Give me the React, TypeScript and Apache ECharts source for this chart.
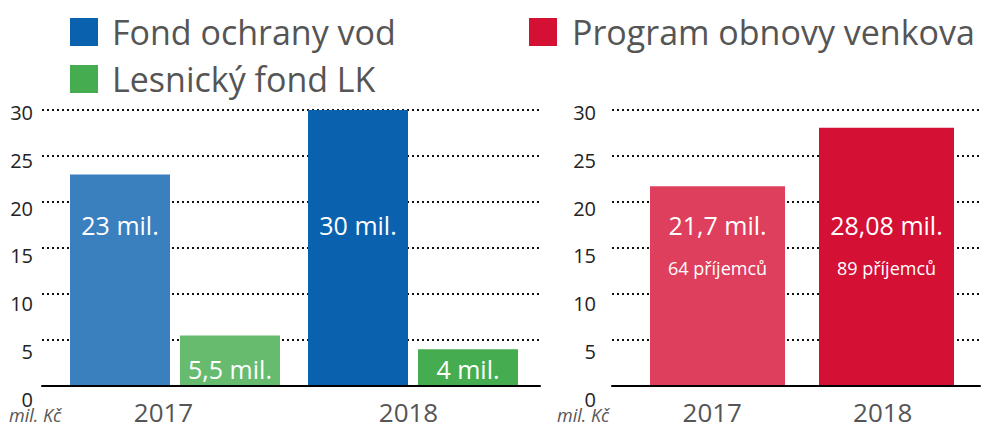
import React, { useEffect, useRef } from "react";
import * as echarts from "echarts";

const years = ["2017", "2018"];
const fondOchranyVod = [23, 30];
const lesnickyFond = [5.5, 4];
const programObnovy = [21.7, 28.08];
const prijemci = [64, 89];
const yTicks = { min: 0, max: 30, interval: 5 };

const seriesNames = ["Fond ochrany vod", "Lesnický fond LK", "Program obnovy venkova"];
const blueColors = ["#3a80bf", "#0a62af"];
const greenColors = ["#67bb6f", "#45ad50"];
const redColors = ["#de3f5c", "#d41034"];

const FONT = "'Open Sans', 'Noto Sans', sans-serif";
const fmt = (v: number) => String(v).replace(".", ",");

export default function App() {
  const ref = useRef<HTMLDivElement>(null);
  useEffect(() => {
    if (!ref.current) return;
    const chart = echarts.init(ref.current, null, { renderer: "svg" });

    const gridLineY = (i: number) => ({
      gridIndex: i,
      type: "value",
      ...yTicks,
      axisLabel: { show: false },
      axisLine: { show: false },
      axisTick: { show: false },
      splitLine: { show: true, lineStyle: { color: "#111", width: 2, type: [2, 3] } },
    });
    const gridLineX = (i: number) => ({
      gridIndex: i,
      type: "category",
      data: years,
      axisLabel: { show: false },
      axisTick: { show: false },
      axisLine: { show: true, lineStyle: { color: "#000", width: 2 } },
      splitLine: { show: false },
      z: 5,
    });
    const hiddenX = (i: number) => ({ gridIndex: i, type: "category", data: years, show: false });
    const hiddenY = (i: number) => ({ gridIndex: i, type: "value", ...yTicks, show: false });
    const labelX = (i: number) => ({
      gridIndex: i,
      type: "category",
      data: years,
      axisLine: { show: false },
      axisTick: { show: false },
      splitLine: { show: false },
      axisLabel: {
        fontSize: 26,
        lineHeight: 24,
        color: "#555",
        fontFamily: FONT,
        margin: 13,
        verticalAlign: "middle",
      },
    });
    const labelY = (i: number, margin: number) => ({
      gridIndex: i,
      type: "value",
      ...yTicks,
      axisLine: { show: false },
      axisTick: { show: false },
      splitLine: { show: false },
      axisLabel: { fontSize: 20, color: "#222", fontFamily: FONT, margin },
    });

    const option: any = {
      animation: false,
      textStyle: { fontFamily: FONT },
      legend: [
        {
          data: [seriesNames[0], seriesNames[1]],
          orient: "vertical",
          left: 70,
          top: 15,
          padding: 0,
          itemWidth: 28,
          itemHeight: 28,
          itemGap: 13,
          icon: "rect",
          selectedMode: false,
          textStyle: { fontSize: 34, color: "#555", lineHeight: 28, padding: [0, 0, 0, 9], fontFamily: FONT },
        },
        {
          data: [seriesNames[2]],
          orient: "vertical",
          left: 529,
          top: 15,
          padding: 0,
          itemWidth: 28,
          itemHeight: 28,
          icon: "rect",
          selectedMode: false,
          textStyle: { fontSize: 34, color: "#555", lineHeight: 28, padding: [0, 0, 0, 10], fontFamily: FONT },
        },
      ],
      grid: [
        { left: 42, width: 498, top: 110, height: 276 },
        { left: 56, width: 476, top: 110, height: 276 },
        { left: 41, width: 490, top: 112.5, height: 286.5 },
        { left: 612, width: 368, top: 110, height: 276 },
        { left: 633, width: 338, top: 110, height: 276 },
        { left: 627, width: 341, top: 112.5, height: 286.5 },
      ],
      xAxis: [gridLineX(0), hiddenX(1), labelX(2), gridLineX(3), hiddenX(4), labelX(5)],
      yAxis: [gridLineY(0), hiddenY(1), labelY(2, 8), gridLineY(3), hiddenY(4), labelY(5, 31)],
      series: [
        {
          name: seriesNames[0],
          type: "bar",
          xAxisIndex: 1,
          yAxisIndex: 1,
          barWidth: 100,
          barGap: "10%",
          itemStyle: { color: blueColors[1] },
          data: fondOchranyVod.map((v, i) => ({ value: v, itemStyle: { color: blueColors[i] } })),
          label: {
            show: true,
            position: "insideBottom",
            distance: 146,
            color: "#fff",
            fontSize: 25,
            lineHeight: 30,
            fontFamily: FONT,
            formatter: (p: any) => `${fmt(p.value)} mil.`,
          },
        },
        {
          name: seriesNames[1],
          type: "bar",
          xAxisIndex: 1,
          yAxisIndex: 1,
          barWidth: 100,
          barGap: "10%",
          itemStyle: { color: greenColors[1] },
          data: lesnickyFond.map((v, i) => ({ value: v, itemStyle: { color: greenColors[i] } })),
          label: {
            show: true,
            position: "insideBottom",
            distance: 2,
            color: "#fff",
            fontSize: 25,
            lineHeight: 30,
            fontFamily: FONT,
            formatter: (p: any) => `${fmt(p.value)} mil.`,
          },
        },
        {
          name: seriesNames[2],
          type: "bar",
          xAxisIndex: 4,
          yAxisIndex: 4,
          barWidth: 135,
          itemStyle: { color: redColors[1] },
          data: programObnovy.map((v, i) => ({ value: v, itemStyle: { color: redColors[i] } })),
          label: {
            show: true,
            position: "insideBottom",
            distance: 97,
            color: "#fff",
            fontFamily: FONT,
            formatter: (p: any) => `{a|${fmt(p.value)} mil.}\n{b|${prijemci[p.dataIndex]} příjemců}`,
            rich: {
              a: { fontSize: 25, lineHeight: 43, color: "#fff", fontFamily: FONT },
              b: { fontSize: 18, lineHeight: 43, color: "#fff", fontFamily: FONT },
            },
          },
        },
      ],
      graphic: [
        {
          type: "text",
          left: 9,
          top: 406,
          style: { text: "mil. Kč", fontSize: 18, fontStyle: "italic", fill: "#555", fontFamily: FONT },
        },
        {
          type: "text",
          left: 557,
          top: 406,
          style: { text: "mil. Kč", fontSize: 18, fontStyle: "italic", fill: "#555", fontFamily: FONT },
        },
      ],
    };
    chart.setOption(option);
    return () => chart.dispose();
  }, []);
  return (
    <div
      ref={ref}
      style={{ position: "fixed", left: 0, top: 0, width: 983, height: 425, background: "#fff" }}
    />
  );
}
